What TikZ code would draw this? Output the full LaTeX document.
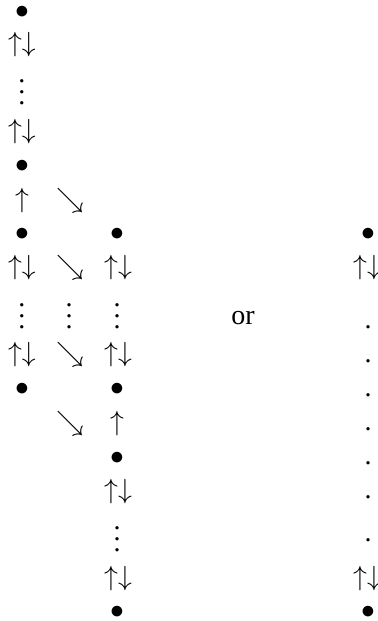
\documentclass[tikz,border=0pt]{standalone}
\usepackage{fontspec}
\setmainfont{Liberation Serif}
\newcommand{\vdts}{\vbox{\baselineskip=8.25pt\lineskiplimit=-20pt\lineskip=0pt\hbox{.}\hbox{.}\hbox{.}}}
\tikzset{
  sym/.style={inner sep=0pt, outer sep=0pt, anchor=center, font=\fontsize{21}{25}\selectfont},
}
\begin{document}
\begin{tikzpicture}[x=0.75pt,y=-0.75pt]
\useasboundingbox (0,0) rectangle (378,621);
% column 1
\node[sym] (c1r1) at (22,12) {$\bullet$};
\node[sym] (c1r2) at (22,45) {$\uparrow\downarrow$};
\node[sym] (c1r3) at (22,92) {\vdts};
\node[sym] (c1r4) at (22,132) {$\uparrow\downarrow$};
\node[sym] (c1r5) at (22,166) {$\bullet$};
\node[sym] (c1r6) at (22,201) {$\uparrow$};
\node[sym] (c1r7) at (22,234) {$\bullet$};
\node[sym] (c1r8) at (22,268) {$\uparrow\downarrow$};
\node[sym] (c1r9) at (22,316) {\vdts};
\node[sym] (c1r10) at (22,355) {$\uparrow\downarrow$};
\node[sym] (c1r11) at (22,389) {$\bullet$};
% column 2
\node[sym] (c2r6) at (70,201) {$\searrow$};
\node[sym] (c2r8) at (70,268) {$\searrow$};
\node[sym] (c2r9) at (69,316) {\vdts};
\node[sym] (c2r10) at (70,355) {$\searrow$};
\node[sym] (c2r12) at (70,424) {$\searrow$};
% column 3
\node[sym] (c3r7) at (117,234) {$\bullet$};
\node[sym] (c3r8) at (118,268) {$\uparrow\downarrow$};
\node[sym] (c3r9) at (117,316) {\vdts};
\node[sym] (c3r10) at (118,355) {$\uparrow\downarrow$};
\node[sym] (c3r11) at (117,389) {$\bullet$};
\node[sym] (c3r12) at (117,424) {$\uparrow$};
\node[sym] (c3r13) at (117,458) {$\bullet$};
\node[sym] (c3r14) at (118,492) {$\uparrow\downarrow$};
\node[sym] (c3r15) at (117,539) {\vdts};
\node[sym] (c3r16) at (118,579) {$\uparrow\downarrow$};
\node[sym] (c3r17) at (117,612) {$\bullet$};
% or
\node[sym] (or) at (243,318) {or};
% column 4
\node[sym] (c4a) at (368,234) {$\bullet$};
\node[sym] (c4b) at (367,268) {$\uparrow\downarrow$};
\node[sym] (c4d1) at (368,327) {.};
\node[sym] (c4d2) at (368,361) {.};
\node[sym] (c4d3) at (368,395) {.};
\node[sym] (c4d4) at (368,429) {.};
\node[sym] (c4d5) at (368,463) {.};
\node[sym] (c4d6) at (368,497) {.};
\node[sym] (c4d7) at (368,540) {.};
\node[sym] (c4c) at (367,579) {$\uparrow\downarrow$};
\node[sym] (c4e) at (368,612) {$\bullet$};
\end{tikzpicture}
\end{document}
